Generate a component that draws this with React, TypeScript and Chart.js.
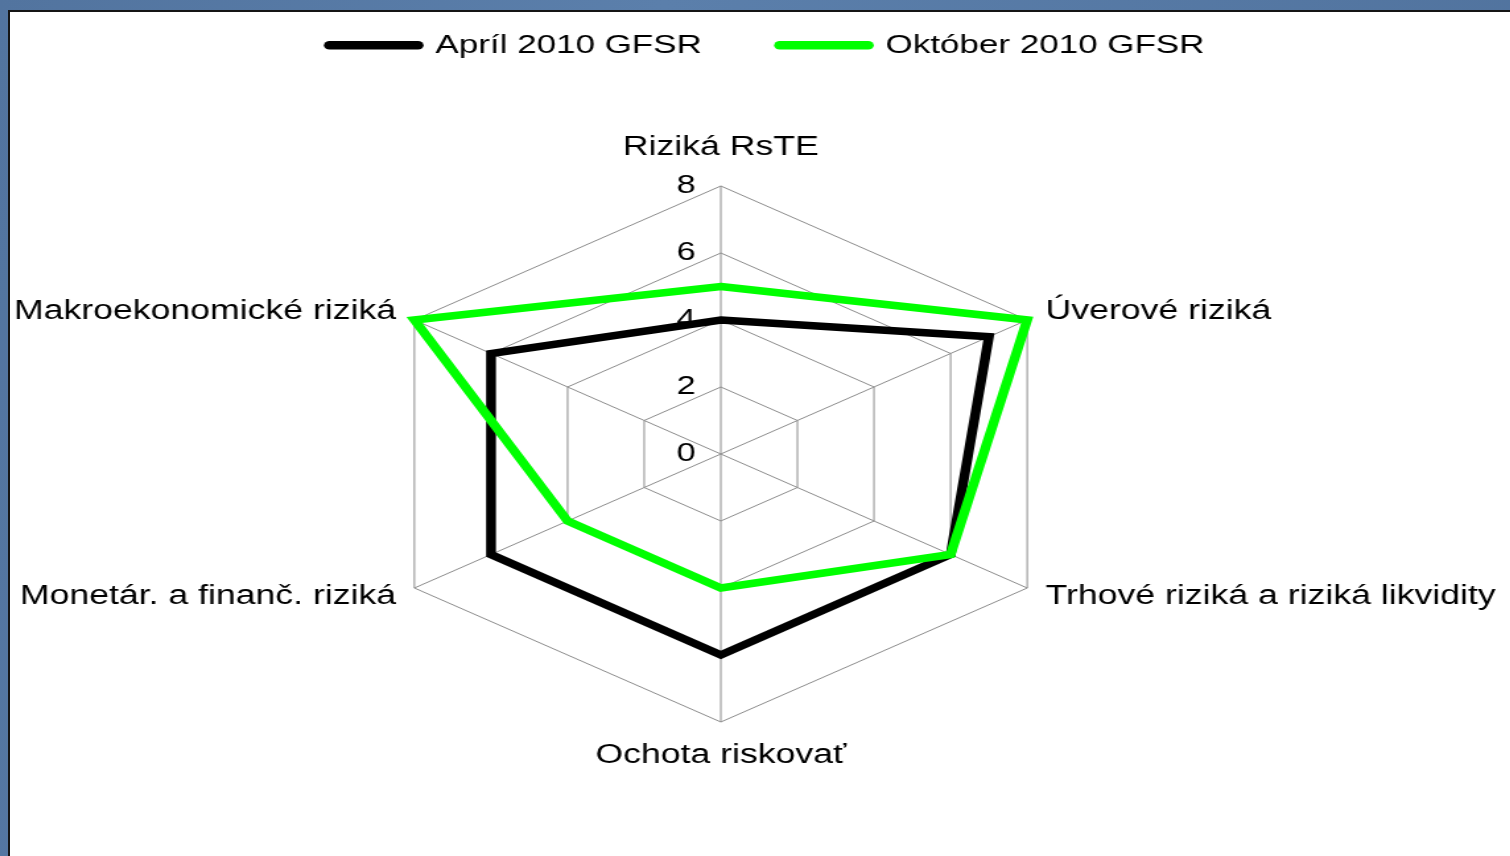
import { useEffect, useRef } from 'react';
import { Chart, registerables } from 'chart.js';

Chart.register(...registerables);

const CATEGORIES = [
  'Riziká RsTE',
  'Úverové riziká',
  'Trhové riziká a riziká likvidity',
  'Ochota riskovať',
  'Monetár. a finanč. riziká',
  'Makroekonomické riziká',
];
const APRIL_2010 = [4, 7, 6, 6, 6, 6];
const OKTOBER_2010 = [5, 8, 6, 4, 4, 8];
const SERIES_NAMES = ['Apríl 2010 GFSR', 'Október 2010 GFSR'];
const SERIES_COLORS = ['#000000', '#00ff00'];
const TICK_VALUES = [0, 2, 4, 6, 8];

const FONT = "'Liberation Sans', Arial, Helvetica, sans-serif";
const STRETCH = 1.32;
const LABEL_PADDING = [38, 16, 16, 33, 16, 16];

Chart.defaults.font.family = FONT;

const tickLabelPlugin = {
  id: 'tickLabelsLeft',
  beforeDatasetsDraw(chart: any) {
    const sc = chart.scales.r;
    const ctx = chart.ctx;
    ctx.save();
    ctx.font = `26px ${FONT}`;
    ctx.fillStyle = '#000';
    ctx.textAlign = 'right';
    ctx.textBaseline = 'middle';
    sc.ticks.forEach((t: any) => {
      const d = sc.getDistanceFromCenterForValue(t.value);
      ctx.fillText(String(t.value), sc.xCenter - 19, sc.yCenter - d);
    });
    ctx.restore();
  },
};

export default function App() {
  const ref = useRef<HTMLCanvasElement>(null);

  useEffect(() => {
    const chart = new Chart(ref.current as HTMLCanvasElement, {
      type: 'radar',
      data: {
        labels: CATEGORIES,
        datasets: [
          {
            label: SERIES_NAMES[0],
            data: APRIL_2010,
            borderColor: SERIES_COLORS[0],
            backgroundColor: SERIES_COLORS[0],
            borderWidth: 7.5,
            fill: false,
            pointRadius: 0,
            order: 1,
          },
          {
            label: SERIES_NAMES[1],
            data: OKTOBER_2010,
            borderColor: SERIES_COLORS[1],
            backgroundColor: SERIES_COLORS[1],
            borderWidth: 7.5,
            fill: false,
            pointRadius: 0,
            order: 0,
          },
        ],
      },
      plugins: [tickLabelPlugin],
      options: {
        animation: false,
        responsive: true,
        maintainAspectRatio: false,
        layout: { padding: { left: 0, right: 0, top: 0, bottom: 97 } },
        elements: { line: { tension: 0, borderJoinStyle: 'miter' } },
        scales: {
          r: {
            min: 0,
            max: 8,
            afterBuildTicks: (scale: any) => {
              scale.ticks = TICK_VALUES.map((v) => ({ value: v }));
            },
            ticks: { display: false },
            grid: { color: '#8c8c8c', lineWidth: 1 },
            angleLines: { color: '#8c8c8c', lineWidth: 1 },
            pointLabels: {
              color: '#000',
              font: { family: FONT, size: 27, lineHeight: 0.01 },
              padding: (ctx: any) => LABEL_PADDING[ctx.index],
            },
          },
        },
        plugins: {
          legend: {
            position: 'top',
            align: 'center',
            labels: {
              usePointStyle: true,
              pointStyleWidth: 67,
              boxWidth: 67,
              padding: 59,
              color: '#000',
              font: { family: FONT, size: 26.5 },
              generateLabels: (c: any) =>
                c.data.datasets.map((ds: any, i: number) => ({
                  text: ds.label,
                  fillStyle: ds.borderColor,
                  strokeStyle: ds.borderColor,
                  lineWidth: 8.5,
                  lineCap: 'round',
                  pointStyle: 'line',
                  hidden: false,
                  datasetIndex: i,
                  fontColor: '#000',
                })),
            },
          },
          title: {
            display: true,
            text: '',
            position: 'top',
            weight: 500,
            font: { size: 1 },
            padding: { top: 0, bottom: 75 },
          },
          subtitle: {
            display: true,
            text: '',
            position: 'right',
            weight: 10,
            fullSize: false,
            font: { size: 1 },
            padding: { top: 34.4, bottom: 34.4 },
          },
          tooltip: { enabled: false },
        },
      } as any,
    });
    return () => chart.destroy();
  }, []);

  return (
    <div
      style={{
        position: 'fixed',
        left: 0,
        top: 0,
        width: 1510,
        height: 856,
        overflow: 'hidden',
        background: 'linear-gradient(100deg, #52749f 0%, #5b7fab 40%, #50729d 100%)',
      }}
    >
      <div
        style={{
          position: 'absolute',
          left: 8,
          top: 10,
          width: 1600,
          height: 900,
          background: '#ffffff',
          borderLeft: '2px solid #151515',
          borderTop: '2px solid #151515',
        }}
      />
      <div
        style={{
          position: 'absolute',
          left: -124,
          top: -27,
          width: 1350,
          height: 883,
          transform: `scaleX(${STRETCH})`,
          transformOrigin: '0 0',
        }}
      >
        <canvas ref={ref} />
      </div>
    </div>
  );
}
